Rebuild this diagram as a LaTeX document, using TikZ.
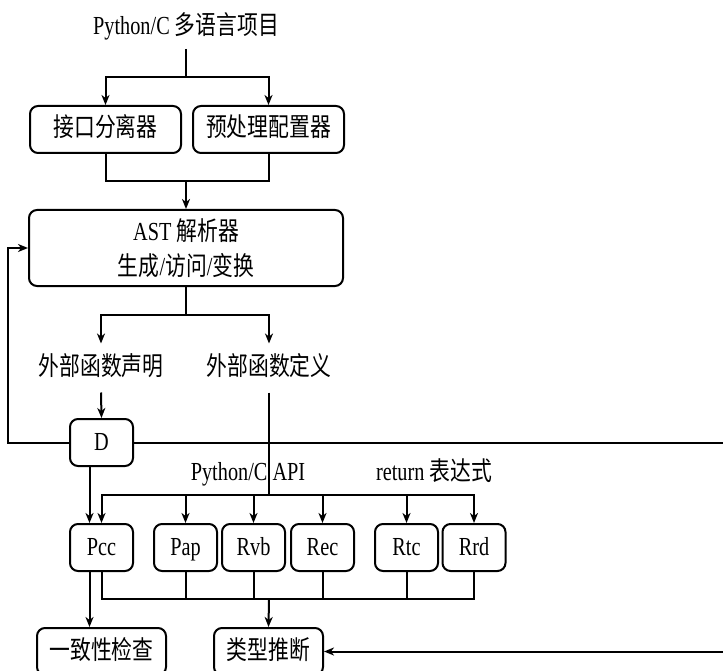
\documentclass[tikz,border=0pt]{standalone}
\usepackage{fontspec}
\setmainfont{Liberation Serif}[FakeStretch=0.78]
\newfontfamily\cjkfont{Noto Sans CJK SC}[FakeStretch=0.8]
\newcommand{\zhtext}[1]{{\cjkfont #1}}
\usetikzlibrary{arrows.meta}
\begin{document}
\begin{tikzpicture}[x=1pt,y=-1pt,
  line width=2pt,
  >={Stealth[length=10pt,width=8pt,inset=3pt]},
  every node/.style={font=\fontsize{26}{35}\selectfont, inner sep=0pt},
  fixh/.style={text height=20pt, text depth=5pt},
  blk/.style={draw, rounded corners=8pt, minimum height=47pt, align=center},
  small/.style={blk, fixh, minimum width=63pt},
  lbl/.style={fixh, minimum height=47pt}]
\useasboundingbox (0,0) rectangle (723,671);

% input and preprocessing
\node[fixh, minimum height=42pt] (title) at (186,27) {Python/C \zhtext{多语言项目}};
\node[blk, fixh, minimum width=151pt] (sep) at (105.5,129.5) {\zhtext{接口分离器}};
\node[blk, fixh, minimum width=151pt] (pre) at (268.5,129.5) {\zhtext{预处理配置器}};
\node[blk, minimum width=314pt, minimum height=76pt] (ast) at (186,248)
  {AST \zhtext{解析器}\\\zhtext{生成}/\zhtext{访问}/\zhtext{变换}};

% external functions
\node[lbl] (decl) at (101,368) {\zhtext{外部函数声明}};
\node[lbl] (defn) at (269,368) {\zhtext{外部函数定义}};
\node[small] (D) at (101.5,442.5) {D};

% rule checks
\node[fixh] (capi) at (248,473) {Python/C API};
\node[fixh] (retx) at (434,473) {return \zhtext{表达式}};
\node[small] (pcc) at (101.5,547.5) {Pcc};
\node[small] (pap) at (185.5,547.5) {Pap};
\node[small] (rvb) at (253.5,547.5) {Rvb};
\node[small] (rec) at (322.5,547.5) {Rec};
\node[small] (rtc) at (406.5,547.5) {Rtc};
\node[small] (rrd) at (474,547.5) {Rrd};

% results
\node[blk, fixh, minimum width=129pt] (cons) at (101.5,651.5) {\zhtext{一致性检查}};
\node[blk, fixh, minimum width=109pt] (infer) at (268.5,651.5) {\zhtext{类型推断}};

% junction points
\coordinate (j1) at (186,77);
\coordinate (j2) at (186,181);
\coordinate (j3) at (186,315);
\coordinate (fbL) at (8,442.5);
\coordinate (fbR) at (735,442.5);
\coordinate (fbR2) at (735,651.5);
\coordinate (busT) at (269,495);
\coordinate (busB) at (269,599);

% connectors
\draw (title.south) -- (j1);
\draw[->] (j1) -| (sep.north);
\draw[->] (j1) -| (pre.north);
\draw (sep.south) |- (j2) -| (pre.south);
\draw[->] (j2) -- (ast.north);
\draw (ast.south) -- (j3);
\draw[->] (j3) -| (decl.north);
\draw[->] (j3) -| (defn.north);
\draw[->] (decl.south) -- (D.north);
\draw[->] (D.west) -- (fbL) |- (ast.west);
\draw[->] (D.east) -- (fbR) -- (fbR2) -- (infer.east);
\draw (defn.south) -- (busT);
\foreach \b in {pcc,pap,rvb,rec,rtc,rrd}
  \draw[->] (busT) -| (\b.north);
\draw[->] ([xshift=-12pt]D.south) -- ([xshift=-12pt]pcc.north);
\draw[->] ([xshift=-12pt]pcc.south) -- ([xshift=-12pt]pcc.south |- cons.north);
\draw (pcc.south) |- (rrd.south |- busB) -- (rrd.south);
\foreach \b in {pap,rvb,rec,rtc}
  \draw (\b.south) -- (\b.south |- busB);
\draw[->] (busB) -- (infer.north);
\end{tikzpicture}
\end{document}
